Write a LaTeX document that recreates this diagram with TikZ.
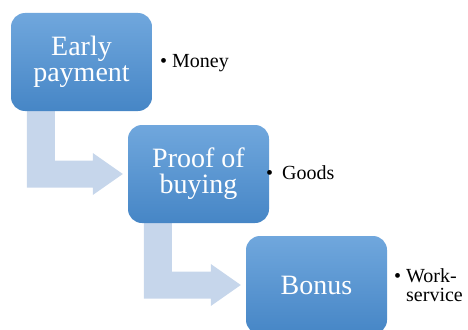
\documentclass[tikz,border=0pt]{standalone}
\usepackage{fontspec}
\setmainfont{Liberation Serif}
\usetikzlibrary{calc,backgrounds}
\definecolor{boxtop}{HTML}{70A7DD}
\definecolor{boxbottom}{HTML}{4686C6}
\definecolor{arrowfill}{HTML}{C6D6EB}
\tikzset{
  stepbox/.style={rounded corners=14pt, minimum width=141pt, minimum height=98pt,
    inner sep=0pt, top color=boxtop, bottom color=boxbottom, draw=none,
    text=white, align=center, font=\fontsize{28}{26}\selectfont},
  bullettext/.style={anchor=west, inner sep=0pt, align=left,
    font=\fontsize{20}{19}\selectfont},
  bentarrow/.style={fill=arrowfill, draw=none}
}
% bent arrow from the bottom of one step to the left side of the next
\newcommand{\stepconnector}[2]{%
  \path[bentarrow] ($(#1.south west)+(16,-4)$) -- ($(#1.south west)+(44,-4)$)
    |- ($(#2.west)+(-35,-13.5)$) -- ($(#2.west)+(-35,-21)$)
    -- ($(#2.west)+(-5,0)$) -- ($(#2.west)+(-35,21)$)
    -- ($(#2.west)+(-35,13.5)$) -| ($(#1.south west)+(16,-4)$) -- cycle;}
\begin{document}
\begin{tikzpicture}[x=1pt, y=-1pt]
  \useasboundingbox (0,0) rectangle (468,329);
  % the three steps
  \node[stepbox] (s1) at (81.5,62) {Early\\payment};
  \node[stepbox] (s2) at (198.5,174) {Proof of\\buying};
  \node[stepbox] (s3) at (316.5,285) {Bonus};
  % bent arrows between the steps, behind the boxes
  \begin{scope}[on background layer]
    \stepconnector{s1}{s2}
    \stepconnector{s2}{s3}
  \end{scope}
  % bullet items
  \node[bullettext] (m) at (160,63) {\textbullet\ Money};
  \node[bullettext] (g) at (266,173) {\textbullet\hspace{9pt}Goods};
  \node[bullettext] (w) at (394,285) {\textbullet\ Work-\\\phantom{\textbullet\ }service};
\end{tikzpicture}
\end{document}
